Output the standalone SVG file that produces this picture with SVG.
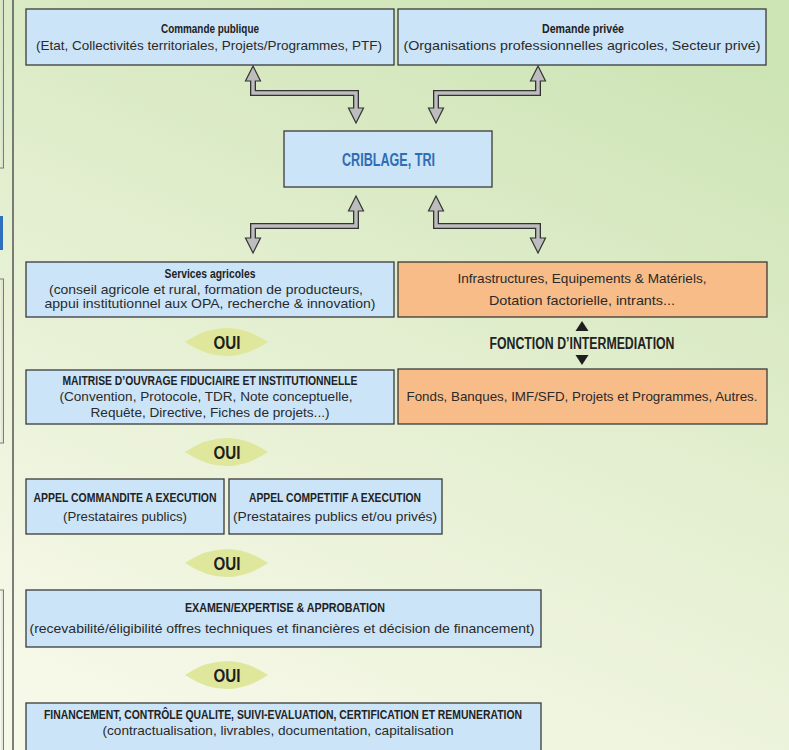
<svg xmlns="http://www.w3.org/2000/svg" width="789" height="750" viewBox="0 0 789 750">
<defs>
<linearGradient id="bg" x1="0.75" y1="0" x2="0.3" y2="1">
<stop offset="0" stop-color="#cde4b5"/>
<stop offset="0.45" stop-color="#e2eece"/>
<stop offset="1" stop-color="#f6f8e8"/>
</linearGradient>
<style>
.box{fill:#cce4f7;stroke:#3a3a3a;stroke-width:1.3}
.obox{fill:#f8bc88;stroke:#3a3a3a;stroke-width:1.3}
.t{font-family:"Liberation Sans",Arial,sans-serif;font-weight:bold;font-size:13.5px;fill:#222;text-anchor:middle}
.b{font-family:"Liberation Sans",Arial,sans-serif;font-size:13px;fill:#2a2a2a;text-anchor:middle}
.oui{font-family:"Liberation Sans",Arial,sans-serif;font-weight:bold;font-size:19px;fill:#1e1e1e;text-anchor:middle}
.lens{fill:#dfe79c}
.sho{fill:none;stroke:#333;stroke-width:6;stroke-linejoin:miter}
.shi{fill:none;stroke:#bdbdbd;stroke-width:3.4;stroke-linejoin:miter}
.head{fill:#bdbdbd;stroke:#333;stroke-width:1.2;stroke-linejoin:miter}
.tri{fill:#1e1e1e}
</style>
</defs>
<rect x="0" y="0" width="789" height="750" fill="url(#bg)"/>

<!-- left margin fragments -->
<g id="margin">
<line x1="13" y1="0" x2="13" y2="750" stroke="#555" stroke-width="1.5"/>
<rect x="-10" y="-2" width="13.5" height="170" fill="none" stroke="#7a7a7a" stroke-width="1"/>
<rect x="-10" y="279" width="13.5" height="164" fill="none" stroke="#7a7a7a" stroke-width="1"/>
<rect x="-10" y="590" width="13.5" height="170" fill="none" stroke="#7a7a7a" stroke-width="1"/>
<line x1="2" y1="0" x2="2" y2="167" stroke="#d8d8d8" stroke-width="1"/>
<line x1="2" y1="280" x2="2" y2="442" stroke="#d8d8d8" stroke-width="1"/>
<line x1="2" y1="591" x2="2" y2="750" stroke="#d8d8d8" stroke-width="1"/>
<rect x="0" y="216" width="3" height="34" fill="#2f6fbe"/>
</g>

<!-- connectors -->
<g id="connectors">
<path class="sho" d="M253,80 V93 H356 V109"/>
<path class="sho" d="M538,80 V93 H436 V109"/>
<path class="sho" d="M356,210 V226 H253 V239"/>
<path class="sho" d="M436,210 V226 H538 V239"/>
<polygon class="head" points="253,66 260.5,81 245.5,81"/>
<polygon class="head" points="356,123 363.5,108 348.5,108"/>
<polygon class="head" points="538,66 545.5,81 530.5,81"/>
<polygon class="head" points="436,123 443.5,108 428.5,108"/>
<polygon class="head" points="356,196 363.5,211 348.5,211"/>
<polygon class="head" points="253,253 260.5,238 245.5,238"/>
<polygon class="head" points="436,196 443.5,211 428.5,211"/>
<polygon class="head" points="538,253 545.5,238 530.5,238"/>
<path class="shi" d="M253,78 V93 H356 V111"/>
<path class="shi" d="M538,78 V93 H436 V111"/>
<path class="shi" d="M356,208 V226 H253 V241"/>
<path class="shi" d="M436,208 V226 H538 V241"/>
<polygon class="tri" points="582,321 588.5,331 575.5,331"/>
<polygon class="tri" points="582,365 588.5,355 575.5,355"/>
</g>

<g id="commande">
<rect class="box" x="26" y="9" width="368" height="56"/>
<text class="t" x="210" y="32.5" textLength="98" lengthAdjust="spacingAndGlyphs">Commande publique</text>
<text class="b" x="209" y="50" textLength="346" lengthAdjust="spacingAndGlyphs">(Etat, Collectivités territoriales, Projets/Programmes, PTF)</text>
</g>

<g id="demande">
<rect class="box" x="398" y="9" width="368" height="56"/>
<text class="t" x="583" y="32.5" textLength="82" lengthAdjust="spacingAndGlyphs">Demande privée</text>
<text class="b" x="582" y="50" textLength="357" lengthAdjust="spacingAndGlyphs">(Organisations professionnelles agricoles, Secteur privé)</text>
</g>

<g id="criblage">
<rect class="box" x="284" y="131" width="208" height="56"/>
<text class="t" x="388.5" y="166" style="font-size:18px;fill:#2f6db5" textLength="93" lengthAdjust="spacingAndGlyphs">CRIBLAGE, TRI</text>
</g>

<g id="services">
<rect class="box" x="26" y="262" width="368" height="55"/>
<text class="t" x="210" y="278" textLength="91" lengthAdjust="spacingAndGlyphs">Services agricoles</text>
<text class="b" x="206" y="294" textLength="314" lengthAdjust="spacingAndGlyphs">(conseil agricole et rural, formation de producteurs,</text>
<text class="b" x="210" y="308" textLength="331" lengthAdjust="spacingAndGlyphs">appui institutionnel aux OPA, recherche &amp; innovation)</text>
</g>

<g id="infra">
<rect class="obox" x="398" y="262" width="369" height="55"/>
<text class="b" x="582" y="283" textLength="249" lengthAdjust="spacingAndGlyphs">Infrastructures, Equipements &amp; Matériels,</text>
<text class="b" x="582" y="305" textLength="186" lengthAdjust="spacingAndGlyphs">Dotation factorielle, intrants...</text>
</g>

<g id="intermediation">
<text class="t" x="582" y="349" style="font-size:16px" textLength="185" lengthAdjust="spacingAndGlyphs">FONCTION D’INTERMEDIATION</text>
</g>

<g id="oui1">
<path class="lens" d="M185,342 Q226.5,314 268,342 Q226.5,370 185,342 Z"/>
<text class="oui" x="227" y="349" textLength="27" lengthAdjust="spacingAndGlyphs">OUI</text>
</g>

<g id="maitrise">
<rect class="box" x="26" y="370" width="368" height="54"/>
<text class="t" x="210" y="385" textLength="295" lengthAdjust="spacingAndGlyphs">MAITRISE D’OUVRAGE FIDUCIAIRE ET INSTITUTIONNELLE</text>
<text class="b" x="206" y="401" textLength="293" lengthAdjust="spacingAndGlyphs">(Convention, Protocole, TDR, Note conceptuelle,</text>
<text class="b" x="210" y="417" textLength="239" lengthAdjust="spacingAndGlyphs">Requête, Directive, Fiches de projets...)</text>
</g>

<g id="fonds">
<rect class="obox" x="398" y="369" width="369" height="55"/>
<text class="b" x="582" y="401" textLength="351" lengthAdjust="spacingAndGlyphs">Fonds, Banques, IMF/SFD, Projets et Programmes, Autres.</text>
</g>

<g id="oui2">
<path class="lens" d="M185,452 Q226.5,424 268,452 Q226.5,480 185,452 Z"/>
<text class="oui" x="227" y="459" textLength="27" lengthAdjust="spacingAndGlyphs">OUI</text>
</g>

<g id="commandite">
<rect class="box" x="26" y="479" width="198" height="55"/>
<text class="t" x="125" y="502" textLength="183" lengthAdjust="spacingAndGlyphs">APPEL COMMANDITE A EXECUTION</text>
<text class="b" x="125" y="521" textLength="124" lengthAdjust="spacingAndGlyphs">(Prestataires publics)</text>
</g>

<g id="competitif">
<rect class="box" x="229" y="479" width="213" height="55"/>
<text class="t" x="335" y="502" textLength="172" lengthAdjust="spacingAndGlyphs">APPEL COMPETITIF A EXECUTION</text>
<text class="b" x="335" y="521" textLength="204" lengthAdjust="spacingAndGlyphs">(Prestataires publics et/ou privés)</text>
</g>

<g id="oui3">
<path class="lens" d="M185,563 Q226.5,535 268,563 Q226.5,591 185,563 Z"/>
<text class="oui" x="227" y="570" textLength="27" lengthAdjust="spacingAndGlyphs">OUI</text>
</g>

<g id="examen">
<rect class="box" x="26" y="590" width="515" height="57"/>
<text class="t" x="285" y="612" textLength="200" lengthAdjust="spacingAndGlyphs">EXAMEN/EXPERTISE &amp; APPROBATION</text>
<text class="b" x="282" y="633" textLength="505" lengthAdjust="spacingAndGlyphs">(recevabilité/éligibilité offres techniques et financières et décision de financement)</text>
</g>

<g id="oui4">
<path class="lens" d="M185,675 Q226.5,647 268,675 Q226.5,703 185,675 Z"/>
<text class="oui" x="227" y="682" textLength="27" lengthAdjust="spacingAndGlyphs">OUI</text>
</g>

<g id="financement">
<rect class="box" x="26" y="703" width="515" height="60"/>
<text class="t" x="283" y="719" textLength="478" lengthAdjust="spacingAndGlyphs">FINANCEMENT, CONTRÔLE QUALITE, SUIVI-EVALUATION, CERTIFICATION ET REMUNERATION</text>
<text class="b" x="278" y="735" textLength="351" lengthAdjust="spacingAndGlyphs">(contractualisation, livrables, documentation, capitalisation</text>
</g>
</svg>
